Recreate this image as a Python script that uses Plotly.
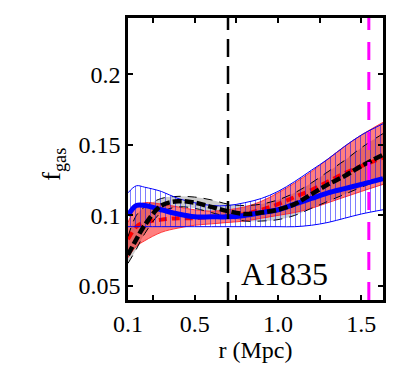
import plotly.graph_objects as go

# radial grid (Mpc)
r = [0.1, 0.15, 0.2, 0.3, 0.4, 0.5, 0.6, 0.7, 0.8, 0.9, 1.0, 1.1, 1.2, 1.3, 1.4, 1.5, 1.63]

# red profile and its band
red_mid = [0.083, 0.092, 0.095, 0.097, 0.098, 0.098, 0.099, 0.099, 0.101, 0.104, 0.108, 0.113, 0.118, 0.124, 0.130, 0.135, 0.141]
red_hi = [0.095, 0.106, 0.109, 0.108, 0.106, 0.104, 0.103, 0.104, 0.106, 0.110, 0.116, 0.123, 0.131, 0.140, 0.149, 0.157, 0.166]
red_lo = [0.070, 0.078, 0.082, 0.088, 0.091, 0.093, 0.094, 0.095, 0.096, 0.098, 0.100, 0.102, 0.105, 0.109, 0.113, 0.117, 0.122]

# blue profile and its hatched band
blue_mid = [0.100, 0.107, 0.107, 0.104, 0.101, 0.099, 0.099, 0.099, 0.100, 0.102, 0.104, 0.108, 0.112, 0.116, 0.119, 0.122, 0.126]
blue_hi = [0.116, 0.121, 0.120, 0.117, 0.112, 0.109, 0.107, 0.107, 0.109, 0.112, 0.117, 0.124, 0.132, 0.140, 0.149, 0.157, 0.165]
blue_lo = [0.092, 0.092, 0.092, 0.092, 0.092, 0.092, 0.092, 0.092, 0.092, 0.092, 0.092, 0.092, 0.093, 0.095, 0.098, 0.101, 0.104]

# black profile and its grey band
black_mid = [0.072, 0.083, 0.093, 0.107, 0.110, 0.109, 0.106, 0.103, 0.101, 0.102, 0.104, 0.108, 0.115, 0.122, 0.128, 0.135, 0.143]
grey_hi = [0.085, 0.100, 0.106, 0.112, 0.1135, 0.113, 0.111, 0.108, 0.107, 0.108, 0.111, 0.116, 0.123, 0.131, 0.139, 0.148, 0.158]
grey_lo = [0.066, 0.076, 0.087, 0.102, 0.106, 0.105, 0.102, 0.099, 0.096, 0.096, 0.097, 0.100, 0.105, 0.110, 0.115, 0.120, 0.126]

r_inner = 0.7
r_500 = 1.545

font = "Times New Roman, Liberation Serif, serif"

fig = go.Figure()


def band(lo, hi, fillcolor, linecolor=None, width=0, dash=None, pattern=None):
    line = dict(color=linecolor or "rgba(0,0,0,0)", width=width, shape="spline", dash=dash)
    fig.add_trace(go.Scatter(x=r, y=lo, mode="lines", line=line, hoverinfo="skip"))
    kw = dict(fill="tonexty", fillcolor=fillcolor)
    if pattern:
        kw["fillpattern"] = pattern
    fig.add_trace(go.Scatter(x=r, y=hi, mode="lines", line=line, hoverinfo="skip", **kw))


def curve(y, color, width, dash=None):
    fig.add_trace(go.Scatter(x=r, y=y, mode="lines", hoverinfo="skip",
                             line=dict(color=color, width=width, dash=dash, shape="spline")))


band(grey_lo, grey_hi, "rgb(205,205,205)")
band(red_lo, red_hi, "rgba(255,0,0,0.5)", "rgba(255,40,40,0.9)", 1)
curve(red_mid, "red", 4, "8px,5px")
# thin black outlines of the grey band
curve(grey_hi, "black", 1, "9px,7px")
curve(grey_lo, "black", 1, "9px,7px")
band(blue_lo, blue_hi, "rgba(0,0,0,0)", "blue", 1,
     pattern=dict(shape="|", fgcolor="blue", bgcolor="rgba(0,0,0,0)", size=5, solidity=0.2))
curve(blue_mid, "blue", 5)
curve(black_mid, "black", 4.5, "9px,3px")

fig.add_vline(x=r_inner, line=dict(color="black", width=2.5, dash="18px,9px"))
fig.add_vline(x=r_500, line=dict(color="magenta", width=3, dash="18px,12px"))

fig.add_annotation(x=1.04, y=0.0582, text="A1835", showarrow=False,
                   font=dict(family=font, size=32, color="black"))
fig.add_annotation(xref="paper", yref="paper", x=-0.294, y=0.48, text="f<sub>gas</sub>",
                   xanchor="center", yanchor="middle", textangle=-90, showarrow=False,
                   font=dict(family=font, size=26, color="black"))

axis = dict(showline=True, linecolor="black", linewidth=2.5, mirror="ticks",
            ticks="inside", ticklen=5, tickwidth=2, tickcolor="black",
            showgrid=False, zeroline=False,
            tickfont=dict(family=font, size=24, color="black"))

fig.update_xaxes(range=[0.1, 1.63], tickvals=[0.1, 0.5, 1.0, 1.5],
                 ticktext=["0.1", "0.5", "1.0", "1.5"],
                 minor=dict(tick0=0, dtick=0.25, ticks="inside", ticklen=5, tickcolor="black", tickwidth=2),
                 title=dict(text="r (Mpc)", font=dict(family=font, size=24, color="black"), standoff=4),
                 **axis)
fig.update_yaxes(range=[0.04, 0.24], tick0=0.05, dtick=0.05, **axis)

# page body keeps its default 8px margin, so the figure is 8px smaller
fig.update_layout(width=392, height=376, showlegend=False,
                  margin=dict(l=120, r=17, t=7, b=84),
                  plot_bgcolor="white", paper_bgcolor="white")

fig.write_html("out.html")
